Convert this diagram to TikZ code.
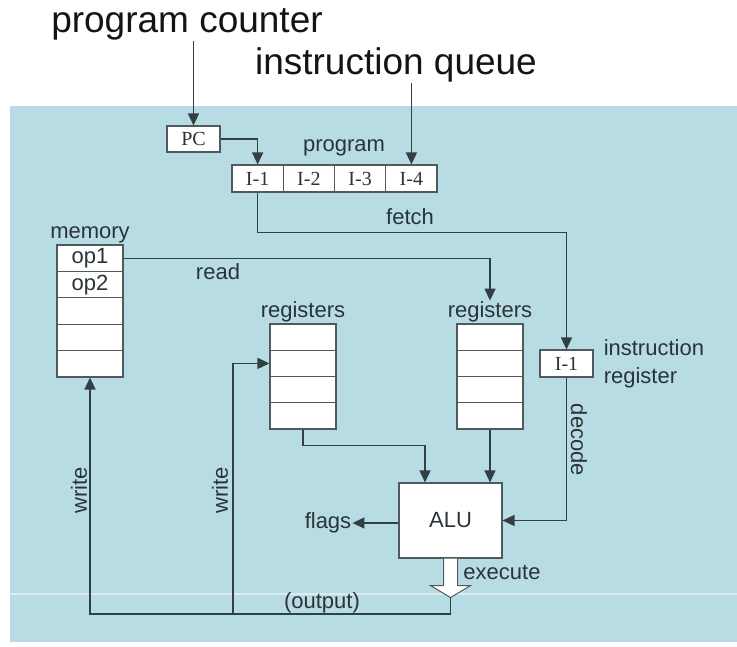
\documentclass[tikz,border=0pt]{standalone}
\usepackage{fontspec}
\setmainfont{Liberation Sans}
\newfontfamily\cellserif{Liberation Serif}
\usetikzlibrary{arrows.meta,positioning}
\definecolor{bgblue}{RGB}{183,220,227}
\definecolor{wirec}{RGB}{52,63,68}
\definecolor{boxline}{RGB}{80,89,93}
\definecolor{labelc}{RGB}{42,52,56}
\definecolor{topc}{RGB}{20,20,20}
\newcommand{\lblfont}{\fontsize{22}{28}\selectfont}
\newcommand{\topfont}{\fontsize{37}{42}\selectfont}
\newcommand{\regfont}{\cellserif\fontsize{20}{22}\selectfont}
\tikzset{
  cell/.style={draw=boxline,fill=white,line width=1.1pt,inner sep=0pt,
    minimum width=66pt,minimum height=26.4pt,text=labelc,font=\lblfont},
  icell/.style={cell,minimum width=51.25pt,minimum height=27pt,font=\regfont},
  lbl/.style={text=labelc,font=\lblfont,inner sep=1pt},
  toplbl/.style={text=topc,font=\topfont,inner sep=1pt},
  wire/.style={draw=wirec,line width=1.4pt},
  arr/.style={wire,-{Triangle[length=12pt,width=11pt]}},
}
\begin{document}
\begin{tikzpicture}[x=1pt,y=-1pt]
\useasboundingbox (0,0) rectangle (737,646);
\fill[bgblue] (10,106) rectangle (737,642);
\draw[white,opacity=0.5,line width=1.5pt] (10,594) -- (737,594);
% top labels
\node[toplbl] (pcl) at (187,24) {program counter};
\node[toplbl] (iql) at (396,65) {instruction queue};
% program counter and queue
\node[icell,minimum width=53pt,minimum height=26pt] (pc) at (193.5,139) {PC};
\foreach \i in {1,...,4}
  \node[icell] (q\i) at (206.4+51.25*\i,178.5) {I-\i};
\node[lbl] (progl) at (344,148) {program};
% memory
\foreach \i/\t in {1/op1,2/op2,3/{},4/{},5/{}}
  \node[cell] (mem\i) at (90,231.8+26.4*\i) {\t};
\node[lbl,above=0pt of mem1] (meml) {memory};
% registers
\foreach \i in {1,...,4}{
  \node[cell,minimum height=26.25pt] (ra\i) at (303,310.9+26.25*\i) {};
  \node[cell,minimum height=26.25pt] (rb\i) at (490,310.9+26.25*\i) {};
}
\node[lbl,above=0pt of ra1] (ral) {registers};
\node[lbl,above=0pt of rb1] (rbl) {registers};
% instruction register
\node[icell,minimum width=53pt] (ir) at (566.5,363.5) {I-1};
\node[lbl,right=9pt of ir,align=left] (irl) {instruction\\register};
% ALU
\node[cell,minimum width=103pt,minimum height=75pt] (alu) at (450.5,520.5) {ALU};
\node[lbl] (flags) at (328,523) {flags};
% connectors
\draw[arr] (pc.north |- pcl.south) -- (pc.north);
\draw[arr] (q4.north |- iql.south) -- (q4.north);
\draw[arr] (pc.east) -| (q1.north);
\draw[arr] (q1.south) -- ++(0,40) -| (ir.north);
\draw[arr] (mem1.east) -| (rbl.north);
\draw[arr] (ra4.south) -- ++(0,16) -| ([xshift=-25.5pt]alu.north);
\draw[arr] (rb4.south) -- (rb4.south |- alu.north);
\draw[arr] (ir.south) |- (alu.east);
\draw[arr] (alu.west |- flags) -- (flags.east);
% execute arrow
\coordinate (tip) at ([yshift=-39pt]alu.south);
\draw[boxline,fill=white,line width=1pt,line join=miter] ([xshift=-7pt]alu.south) -- ++(0,27)
  -- ++(-13,0) -- (tip) -- ++(20,-12) -- ++(-13,0) -- ([xshift=7pt]alu.south);
\coordinate (wr) at (233,614);
\draw[arr] (tip) |- (wr) -| (mem5.south);
\draw[arr] (wr) |- (ra2.west);
% labels on connectors
\node[lbl] (fetchl) at (410,217) {fetch};
\node[lbl] (readl) at (218,272) {read};
\node[lbl,rotate=-90] (decl) at (579,440) {decode};
\node[lbl] (execl) at (502,572) {execute};
\node[lbl] (outl) at (322,603) {(output)};
\node[lbl,rotate=90] (wr1l) at (79,490) {write};
\node[lbl,rotate=90] (wr2l) at (220,490) {write};
\end{tikzpicture}
\end{document}
